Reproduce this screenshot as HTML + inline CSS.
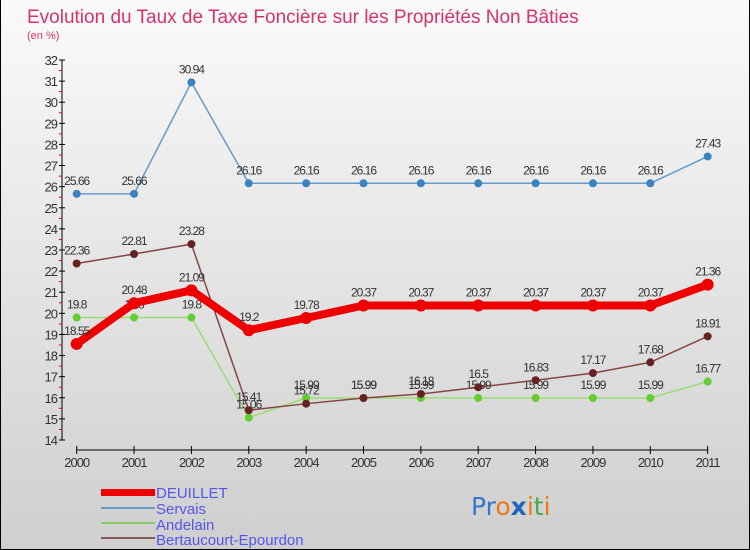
<!DOCTYPE html>
<html><head><meta charset="utf-8"><style>
body{margin:0}
#c{width:750px;height:550px;position:relative;background:linear-gradient(#fafafa,#cfcfcf);box-sizing:border-box;border:1px solid #000;border-top:none;overflow:hidden;font-family:"Liberation Sans",sans-serif}
svg{position:absolute;left:0;top:0}
</style></head><body>
<div id="c">
<svg id="s" width="750" height="550">
<text x="26" y="23" font-size="19" fill="#d6336c">Evolution du Taux de Taxe Foncière sur les Propriétés Non Bâties</text>
<text x="26" y="39" font-size="11" fill="#d6336c">(en %)</text>
<g id="ax"></g><g id="series"></g>
<g font-size="15" fill="#5555ee">
<rect x="100" y="489" width="54" height="7" fill="#ee0000"/>
<text x="155" y="498">DEUILLET</text>
<rect x="100" y="507" width="54" height="2" fill="#6699cc"/>
<text x="155" y="514">Servais</text>
<rect x="100" y="522" width="54" height="2" fill="#88cc66"/>
<text x="155" y="530">Andelain</text>
<rect x="100" y="537" width="54" height="2" fill="#8a5a5a"/>
<text x="155" y="545">Bertaucourt-Epourdon</text>
</g>
<text x="470" y="515" font-size="25" font-family="'DejaVu Sans',sans-serif"><tspan fill="#3377cc">Pr</tspan><tspan fill="#ee7711">o</tspan><tspan fill="#2266bb" font-weight="bold">x</tspan><tspan fill="#ee7711">i</tspan><tspan fill="#44aa44">t</tspan><tspan fill="#ee7711">i</tspan></text>
</svg></div>
<script>
const years=["2000","2001","2002","2003","2004","2005","2006","2007","2008","2009","2010","2011"];
const deuillet=[18.55,20.48,21.09,19.2,19.78,20.37,20.37,20.37,20.37,20.37,20.37,21.36];
const servais=[25.66,25.66,30.94,26.16,26.16,26.16,26.16,26.16,26.16,26.16,26.16,27.43];
const andelain=[19.8,19.8,19.8,15.06,15.99,15.99,15.99,15.99,15.99,15.99,15.99,16.77];
const bertaucourt=[22.36,22.81,23.28,15.41,15.72,15.99,16.18,16.5,16.83,17.17,17.68,18.91];
const yTicks=[14,15,16,17,18,19,20,21,22,23,24,25,26,27,28,29,30,31,32];
const NS="http://www.w3.org/2000/svg";
const X=i=>75.7+i*57.36, Y=v=>440-(v-14)*(380/18);
function mk(t,a,p){const e=document.createElementNS(NS,t);for(const k in a)e.setAttribute(k,a[k]);p.appendChild(e);return e;}
const ax=document.getElementById('ax');
let l=mk('line',{x1:61,y1:Y(14),x2:61,y2:Y(32),stroke:'#000'},ax);


l=mk('line',{x1:X(0),y1:450,x2:X(11),y2:450,stroke:'#000'},ax);


yTicks.forEach(v=>{
 mk('line',{x1:58,x2:64,y1:Y(v),y2:Y(v),stroke:'#000'},ax);
 if(v<32)mk('line',{x1:58,x2:61,y1:Y(v+0.5),y2:Y(v+0.5),stroke:'#e00'},ax);
 const t=mk('text',{x:56,y:Y(v)+5,'text-anchor':'end','font-size':13,fill:'#333','letter-spacing':'-1'},ax);
 t.textContent=v;
 
 
});
years.forEach((y,i)=>{
 mk('line',{x1:X(i),x2:X(i),y1:446,y2:454,stroke:'#000'},ax);
 const t=mk('text',{x:X(i),y:467,'text-anchor':'middle','font-size':13,fill:'#333','letter-spacing':'-1'},ax);
 t.textContent=y;
 
 
});
const sg=document.getElementById('series');
function draw(name,vals,col,dot,w,r){
 const g=mk('g',{},sg);
 
 
 const p=mk('polyline',{points:vals.map((v,i)=>X(i)+','+Y(v)).join(' '),fill:'none',stroke:col,'stroke-width':w,'stroke-linejoin':'round'},g);
 
 
 vals.forEach((v,i)=>{
  const c=mk('circle',{cx:X(i),cy:Y(v),r:r,fill:dot},g);
  
  
  const t=mk('text',{x:X(i),y:Y(v)-9,'text-anchor':'middle','font-size':12,fill:'#333','letter-spacing':'-1'},g);
  t.textContent=v;
  
  
 });
}
draw('servais',servais,'#6699cc','#3a82c0',1.5,4);
draw('andelain',andelain,'#99dd77','#66cc33',1.5,4);
draw('bertaucourt',bertaucourt,'#884444','#662222',1.5,4);
draw('deuillet',deuillet,'#ee0000','#ee0000',8,6);
</script>
</body></html>
